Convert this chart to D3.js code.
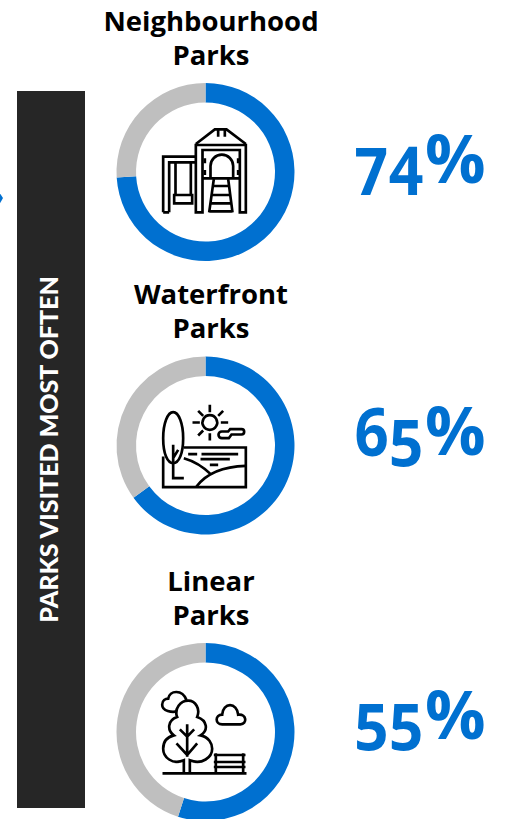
<!DOCTYPE html>
<html lang="en"><head>
<meta charset="utf-8">
<title>Parks visited most often</title>
<script src="https://cdn.jsdelivr.net/npm/d3@7"></script>
<style>
html, body { margin: 0; padding: 0; background: #fff; overflow: hidden; }
text { font-family: "Open Sans", sans-serif; font-weight: 700; }
.pct { font-feature-settings: "onum" 1; font-variant-numeric: oldstyle-nums; }
</style>
</head>
<body>
<script type="text/javascript">

var width = 513;
var height = 819;

var parks = ["Neighbourhood|Parks", "Waterfront|Parks", "Linear|Parks"];
var shares = [74, 65, 55];
var sideLabel = "PARKS VISITED MOST OFTEN";

// icons, units are 1/3 px around the donut centre
var icons = [
    ["M-127 121V-46H-29M-109 121V-29H-29M-127 121H-109",
     "M-29 121V-81H121V121H103V-66H-9V121Z",
     "M-29 -84L28 -128H63L121 -84M38 -128V-106M58 -128V-106",
     "M-90 -29V69M-44 -29V69M-94 94V69H-40V94Z",
     "M15 19V-18A34 34 0 0 1 83 -18V19M-9 19H103",
     "M25 21L11 121M68 21L81 121M20 42H74M17 69H77M14 94H79M11 118H81",
     "M-2 -41V-26M-2 -6V9M98 -41V-26M98 -6V9"],
    ["M-97 -100C-80 -100 -67 -65 -67 -22C-67 25 -80 53 -97 53C-114 53 -127 25 -127 -22C-127 -65 -114 -100 -97 -100Z",
     "M-97 -2V98H-65M-97 38L-82 13",
     "M-65 6H121V125H-127V33",
     "M-65 38C-30 48 -5 65 18 88M-27 123C3 83 53 63 121 61",
     "M-52 26H-25M-12 26H98M-15 41H73M13 58H38",
     "M13 -91A22 22 0 1 0 13.01 -91ZM13 -122V-100M13 -37V-15M-39 -69H-17M46 -69H68M-22 -104L-7 -89M53 -104L38 -89M-22 -30L-7 -45",
     "M49 -42H68L74 -49H108A8 8 0 0 1 108 -33H78L70 -22H49A10 10 0 0 1 49 -42Z"],
    ["M-129 124H123",
     "M-65 124V85C-100 100 -127 75 -127 50C-127 30 -115 15 -95 10C-115 -5 -115 -35 -85 -45C-95 -70 -75 -94 -52 -94C-30 -94 -15 -70 -25 -45C5 -35 10 -5 -15 10C10 15 20 35 20 50C20 75 -10 100 -47 85V124",
     "M-55 74V-23M-87 34L-55 69L-25 34M-77 -8L-55 14L-34 -8",
     "M-85 -62C-100 -58 -130 -62 -130 -82C-130 -95 -120 -100 -112 -100C-108 -125 -70 -130 -57 -96",
     "M50 -23C28 -23 28 -52 50 -52C52 -90 95 -90 98 -52C125 -55 125 -23 105 -23Z",
     "M25 69H120M25 90H120M25 105H120M31 64V124M113 64V124"]
];

var svg = d3.select("body").append("svg")
    .attr("width", width)
    .attr("height", height)
    .style("display", "block");

// side bar
svg.append("rect")
    .attr("x", 17)
    .attr("y", 91)
    .attr("width", 68)
    .attr("height", 717)
    .attr("fill", "#262626");

svg.append("text")
    .attr("transform", "translate(58,449.5) rotate(-90)")
    .attr("text-anchor", "middle")
    .attr("font-size", 25)
    .attr("fill", "#fff")
    .style("font-family", "Lato, sans-serif")
    .style("font-weight", 900)
    .text(sideLabel);

// the little arrow tip cut off at the left edge
svg.append("path")
    .attr("d", "M-1 192L3 198L-1 205Z")
    .attr("fill", "#0070d0");

var centerY = d3.scaleOrdinal().domain(parks).range([172, 445.5, 732]);
var titleY = d3.scaleOrdinal().domain(parks).range([31, 304, 591]);
var pctY = d3.scaleOrdinal().domain(parks).range([184, 456, 740]);

var pie = d3.pie().sort(null);
var arc = d3.arc().innerRadius(69.5).outerRadius(89);

var groups = svg.selectAll("g.park")
    .data(parks)
    .enter()
    .append("g")
    .attr("class", "park");

groups.each(function(name, i) {
    var g = d3.select(this);
    var cy = centerY(name);
    var ring = g.append("g").attr("transform", "translate(205.5," + cy + ")");

    ring.selectAll("path.slice")
        .data(pie([shares[i], 100 - shares[i]]))
        .enter()
        .append("path")
        .attr("class", "slice")
        .attr("d", arc)
        .attr("fill", function(d, j) { return j == 0 ? "#0070d0" : "#bfbfbf"; });

    ring.append("g")
        .attr("transform", "scale(0.3333)")
        .selectAll("path")
        .data(icons[i])
        .enter()
        .append("path")
        .attr("d", function(d) { return d; })
        .attr("fill", "none")
        .attr("stroke", "#000")
        .attr("stroke-width", 8);

    name.split("|").forEach(function(line, k) {
        g.append("text")
            .attr("x", 211)
            .attr("y", titleY(name) + k * 34)
            .attr("text-anchor", "middle")
            .attr("font-size", 27.5)
            .attr("fill", "#000")
            .text(line);
    });

    // old style figures, they hang below the line like in the picture
    g.append("text")
        .attr("class", "pct")
        .attr("transform", "translate(354," + pctY(name) + ") scale(0.9,1)")
        .attr("font-size", 67)
        .attr("fill", "#0070d0")
        .text(shares[i]);

    g.append("text")
        .attr("transform", "translate(425," + (pctY(name) - 1) + ") scale(1.02,1)")
        .attr("font-size", 66)
        .attr("fill", "#0070d0")
        .text("%");
});
</script>
</body></html>
